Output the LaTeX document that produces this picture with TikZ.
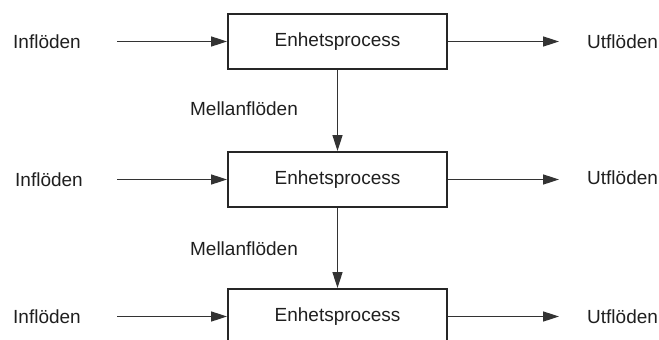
\documentclass[tikz,border=0pt]{standalone}
\usepackage{fontspec}
\setmainfont{Liberation Sans}
\usetikzlibrary{arrows.meta}
\begin{document}
\begin{tikzpicture}[x=1pt,y=-1pt,
  txt/.style={font=\fontsize{19}{23}\selectfont, text=black!88},
  proc/.style={txt, draw=black!85, line width=2pt, minimum width=219pt,
    minimum height=55pt, inner sep=0pt},
  lbl/.style={txt, inner sep=0pt},
  flow/.style={draw=black!80, line width=1.6pt,
    -{Triangle[length=16pt,width=10pt]}}]
\useasboundingbox (0,0) rectangle (659,340);
\clip (0,0) rectangle (659,340);

% unit processes
\node[proc] (b1) at (337.5,41.5) {Enhetsprocess};
\node[proc] (b2) at (337.5,179.5) {Enhetsprocess};
\node[proc] (b3) at (337.5,316.5) {Enhetsprocess};

% inflows
\node[lbl, anchor=west] (in1) at (13,41.5) {Inflöden};
\node[lbl, anchor=west] (in2) at (15,179.5) {Inflöden};
\node[lbl, anchor=west] (in3) at (13,316.5) {Inflöden};

% outflows
\node[lbl, anchor=west] (out1) at (587,41.5) {Utflöden};
\node[lbl, anchor=west] (out2) at (587,177.5) {Utflöden};
\node[lbl, anchor=west] (out3) at (587,316.5) {Utflöden};

% intermediate flows
\node[lbl] (m1) at (244,108.5) {Mellanflöden};
\node[lbl] (m2) at (244,249) {Mellanflöden};

\draw[flow, shorten <=36pt] (in1.east) -- (b1.west);
\draw[flow, shorten <=34pt] (in2.east) -- (b2.west);
\draw[flow, shorten <=36pt] (in3.east) -- (b3.west);

\draw[flow, shorten >=28pt] (b1.east) -- (b1.east -| out1.west);
\draw[flow, shorten >=28pt] (b2.east) -- (b2.east -| out2.west);
\draw[flow, shorten >=28pt] (b3.east) -- (b3.east -| out3.west);

\draw[flow] (b1.south) -- (b2.north);
\draw[flow] (b2.south) -- (b3.north);
\end{tikzpicture}
\end{document}
